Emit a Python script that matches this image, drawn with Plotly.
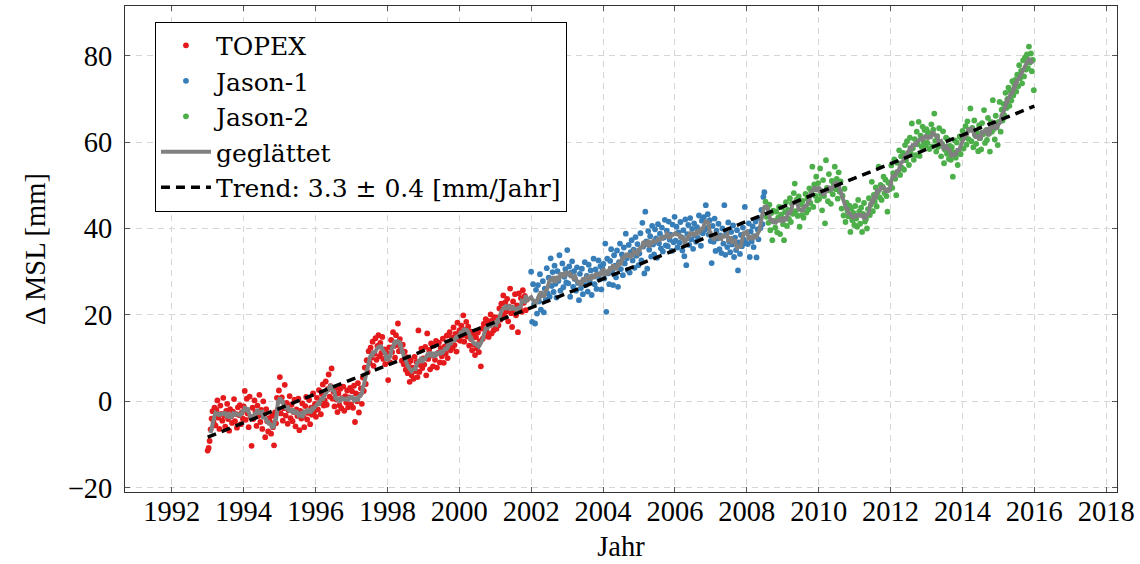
import numpy as np
import pandas as pd
import plotly.graph_objects as go

# ---------------- data ----------------
cycle_years = 9.9156 / 365.25   # repeat cycle of the altimeter missions

topex_start = 1993.0
topex_mm = [
    # 1993
    -11.4, -10.8, -9.2, -6.5, -4.0, -2.3, -4.8, -1.5, -5.6, -2.0, 0.2, -3.8, -6.4, -1.0, -2.9, -4.5, 0.8, -3.3, -5.9,
    -2.2, -0.6, -4.1, -6.8, -1.8, -3.5, -5.0, -2.4, 0.5, -4.6, -2.9, -6.1, -1.4, -3.2, -0.9, -5.3, -2.6, -4.0,
    # 1994
    -1.2, 2.4, -4.3, 0.6, -2.8, -6.0, 1.1, -3.6, -10.3, -1.5, -4.1, 0.2, -2.5, -5.7, -1.0, -3.4, 1.5, -4.8, -2.0,
    -6.4, 0.0, -3.0, -8.3, -1.8, -4.6, -7.0, -3.9, -4.8, -7.5, -3.4, -6.0, -10.2, -2.6, -5.1, 0.8, -1.9, 2.5,
    # 1995
    5.6, -2.8, 0.9, -4.5, -1.6, 3.8, -3.3, -0.4, -5.2, -2.1, 1.2, -3.9, -0.8, -4.6, -2.5, 0.4, -5.8, -1.9, -3.4,
    0.6, -6.7, -2.2, -4.0, -0.5, -3.6, -6.0, -1.1, 1.0, -4.2, -2.7, 0.3, -5.3, -1.5, -3.1, 1.8, -2.4, -0.6,
    # 1996
    -3.6, 0.8, -1.9, 2.6, -0.4, -3.0, 1.7, 3.9, -1.0, 0.2, 4.6, -0.8, 2.8, 6.2, 1.1, 3.5, 7.6, 0.6, 2.2,
    -1.2, 3.0, 0.4, -2.5, 1.8, -0.9, 2.9, -1.6, 0.7, 3.4, -2.2, 1.2, -0.3, 2.5, -1.4, 0.9, 3.1, -0.7,
    # 1997
    2.3, -1.5, 3.6, -4.8, 1.8, 0.0, 4.2, -2.6, 1.5, 3.0, -0.6, 5.5, 2.4, 7.8, 4.0, 9.5, 6.8, 11.6, 8.9,
    12.4, 10.1, 13.8, 8.2, 11.0, 14.6, 9.6, 12.8, 15.3, 10.4, 13.5, 11.2, 14.9, 9.8, 12.0, 8.6, 11.3, 10.0,
    # 1998
    4.9, 12.5, 9.0, 14.2, 11.4, 16.0, 12.8, 10.1, 15.3, 13.0, 18.0, 11.6, 14.4, 12.0, 9.4, 13.1, 8.6, 11.5, 7.3,
    10.2, 6.5, 8.8, 4.5, 9.4, 6.0, 7.8, 5.2, 10.3, 7.0, 9.1, 5.6, 16.4, 6.8, 8.4, 12.2, 7.7, 9.9,
    # 1999
    8.5, 12.6, 6.0, 15.7, 9.8, 11.9, 7.4, 13.4, 10.6, 8.1, 12.9, 9.6, 14.0, 7.8, 11.2, 13.6, 9.0, 12.3, 10.4,
    14.5, 8.9, 12.7, 11.1, 15.2, 10.0, 13.3, 16.0, 11.8, 14.8, 12.4, 17.1, 13.0, 15.6, 11.5, 18.2, 14.3, 16.4,
    # 2000
    14.0, 17.5, 15.2, 19.9, 13.8, 16.6, 18.4, 15.0, 17.3, 12.9, 16.2, 14.4, 11.8, 15.6, 13.1, 10.7, 14.8, 12.2, 15.9,
    11.4, 13.9, 8.1, 16.8, 14.5, 17.9, 15.3, 19.0, 16.1, 18.6, 14.9, 17.6, 20.1, 15.7, 18.8, 16.4, 19.5, 17.2,
    # 2001
    16.8, 19.4, 17.6, 21.5, 18.9, 22.6, 20.0, 24.5, 19.7, 22.9, 20.8, 23.7, 18.5, 21.9, 26.1, 20.4,
    17.2, 23.1, 21.3, 24.8, 19.9, 22.2, 16.0, 25.0, 21.6, 23.9, 20.7, 25.7, 22.8, 24.4, 21.1, 23.5,
]

jason1_start = 2002.0
jason1_mm = [
    # 2002
    30.0, 18.4, 27.1, 22.5, 18.0, 25.8, 20.3, 26.9, 23.1, 29.4, 21.2, 24.7, 27.8, 20.6, 26.1, 23.5, 30.8, 25.0, 28.6,
    24.2, 33.1, 26.7, 29.9, 25.3, 31.4, 27.2, 24.0, 30.1, 27.9, 33.8, 25.6, 29.2, 31.9, 26.4, 28.8, 30.6, 27.5,
    # 2003
    35.0, 27.3, 31.2, 24.2, 29.8, 32.4, 26.5, 30.1, 28.3, 25.6, 31.0, 27.4, 23.4, 29.5, 26.2, 30.7, 24.8, 28.1, 32.2,
    26.9, 29.0, 25.4, 31.6, 27.8, 30.3, 24.6, 28.9, 33.0, 27.1, 30.5, 26.0, 29.4, 32.6, 28.2, 31.3, 25.9, 30.8,
    # 2004
    31.8, 28.4, 36.5, 20.7, 33.0, 29.6, 27.1, 32.5, 35.2, 30.0, 26.9, 33.8, 31.4, 28.7, 34.9, 26.5, 32.2, 36.5, 30.6,
    34.0, 29.2, 35.6, 31.9, 38.8, 33.1, 30.4, 36.2, 29.8, 34.5, 37.3, 32.6, 35.1, 30.9, 38.0, 33.7, 36.4, 31.5,
    # 2005
    34.2, 38.9, 32.6, 41.3, 35.8, 29.6, 43.9, 37.0, 30.7, 39.4, 35.1, 38.2, 33.5, 40.6, 36.3, 34.0, 39.8, 37.7, 33.2,
    41.0, 36.6, 38.8, 35.4, 40.2, 34.7, 37.9, 42.0, 36.1, 39.5, 35.9, 41.6, 37.4, 38.6, 34.8, 40.9, 36.8, 42.7,
    # 2006
    37.2, 40.4, 35.6, 39.1, 36.7, 41.5, 38.0, 34.9, 39.6, 33.6, 42.1, 31.5, 38.7, 40.8, 36.2, 42.4, 37.5, 39.9, 35.3,
    41.2, 38.4, 36.9, 40.3, 37.8, 43.0, 39.2, 36.0, 41.8, 38.9, 42.6, 39.7, 45.4, 40.1, 43.3, 38.6, 41.9, 37.1,
    # 2007
    32.0, 40.6, 36.9, 42.3, 34.8, 39.5, 37.7, 41.1, 35.2, 38.4, 34.3, 40.0, 36.5, 45.4, 33.9, 38.8, 35.7, 41.4, 37.0,
    34.5, 39.2, 36.3, 40.7, 33.4, 37.9, 35.0, 39.6, 30.3, 36.8, 34.1, 38.5, 35.9, 40.2, 37.4, 45.0, 36.6, 39.0,
    # 2008
    36.4, 41.2, 33.4, 39.3, 37.0, 40.5, 35.7, 38.2, 41.6, 33.3, 39.8, 37.5, 42.4, 40.1, 44.3, 41.0, 47.3, 48.4,
]

jason2_start = 2008.52
jason2_mm = [
    # 2008
    46.2, 42.7, 44.8, 41.3, 45.5, 39.6, 43.6, 37.3, 44.1, 41.8, 40.2, 43.9, 39.1, 42.5, 45.0, 38.7, 43.2,
    # 2009
    44.9, 41.0, 37.3, 43.8, 46.1, 40.6, 44.3, 42.2, 47.0, 41.5, 45.8, 43.4, 48.2, 50.4, 44.0, 46.7, 42.9, 47.4, 40.4,
    45.6, 43.1, 46.4, 42.5, 45.1, 48.0, 43.7, 46.9, 44.4, 49.3, 45.9, 48.6, 54.3, 45.0, 50.2, 47.6, 52.0, 46.5,
    # 2010
    50.5, 46.8, 53.9, 48.0, 44.2, 51.2, 47.5, 41.2, 55.8, 49.4, 46.3, 52.6, 48.8, 45.7, 51.0, 47.9, 50.3, 54.3, 49.1,
    51.5, 46.9, 53.0, 48.5, 50.9, 44.6, 47.6, 43.0, 49.2, 41.5, 46.0, 44.1, 42.8, 45.3, 39.2, 44.7, 41.9, 43.6,
    # 2011
    40.8, 45.2, 42.3, 40.4, 46.6, 43.9, 41.1, 44.8, 39.2, 43.4, 45.9, 41.6, 42.2, 40.0, 44.5, 47.0, 43.1, 45.5, 50.8,
    44.0, 47.8, 46.2, 49.5, 45.1, 48.4, 54.3, 47.2, 50.1, 46.6, 49.7, 52.0, 48.2, 51.3, 47.5, 43.9, 50.6, 49.0,
    # 2012
    50.3, 54.6, 49.4, 52.8, 56.0, 51.5, 47.7, 55.2, 53.1, 58.1, 52.4, 56.7, 54.0, 57.5, 53.6, 59.3, 55.8, 60.2, 56.9,
    54.7, 61.0, 57.4, 64.3, 58.6, 55.9, 60.7, 57.0, 62.4, 59.5, 64.7, 56.8, 61.5, 58.9, 63.6, 60.1, 62.8, 59.2,
    # 2013
    63.0, 59.8, 62.2, 58.4, 61.7, 64.1, 59.0, 62.9, 66.6, 60.3, 57.8, 61.4, 58.9, 63.2, 60.0, 56.7, 59.6, 62.5, 55.1,
    58.2, 61.0, 57.3, 60.6, 56.1, 59.1, 55.9, 58.8, 52.0, 57.6, 60.4, 56.4, 59.9, 54.7, 58.0, 61.3, 57.2, 60.8,
    # 2014
    62.6, 58.5, 61.1, 63.7, 59.4, 64.8, 60.7, 62.9, 67.8, 60.2, 63.3, 58.8, 65.0, 61.5, 59.6, 62.1, 57.9, 63.9, 60.9,
    58.3, 64.4, 61.8, 67.4, 59.8, 62.7, 60.5, 65.6, 61.9, 57.8, 64.6, 62.4, 69.7, 63.0, 60.6, 66.1, 63.5, 59.3,
    # 2015
    64.7, 69.3, 62.4, 67.5, 65.0, 68.8, 66.2, 71.4, 67.9, 70.0, 72.6, 68.4, 71.9, 69.6, 74.1, 70.8, 73.3, 74.4, 71.7,
    75.6, 72.9, 77.8, 74.8, 76.5, 73.6, 78.9, 75.2, 79.6, 76.8, 80.3, 77.1, 82.1, 78.4, 80.5, 76.4, 79.0, 72.0,
]

trend_years = [1993.0, 2016.0]
trend_mm = [-8.3, 68.3]

x_ticks = [1992, 1994, 1996, 1998, 2000, 2002, 2004, 2006, 2008, 2010, 2012, 2014, 2016, 2018]
y_ticks = [-20, 0, 20, 40, 60, 80]

# ---------------- derived ----------------
def times(start, values):
    return start + cycle_years * np.arange(len(values))

topex_t = times(topex_start, topex_mm)
jason1_t = times(jason1_start, jason1_mm)
jason2_t = times(jason2_start, jason2_mm)

all_t = np.concatenate([topex_t, jason1_t, jason2_t])
all_mm = np.concatenate([topex_mm, jason1_mm, jason2_mm])
smooth_mm = pd.Series(all_mm).rolling(6, center=True, min_periods=6).mean().to_numpy()

FONT = "Liberation Serif"
FS = 28.5
LEG_FONT = "DejaVu Serif"
LEG_FS = 25

fig = go.Figure()
for name, t, v, col in [
    ("TOPEX", topex_t, topex_mm, "#e41a1c"),
    ("Jason-1", jason1_t, jason1_mm, "#377eb8"),
    ("Jason-2", jason2_t, jason2_mm, "#4daf4a"),
]:
    fig.add_trace(go.Scatter(x=t, y=v, mode="markers", name=name,
                             marker=dict(size=5.8, color=col, line=dict(width=0))))

fig.add_trace(go.Scatter(x=all_t, y=smooth_mm, mode="lines", name="geglättet",
                         line=dict(color="#808080", width=4)))
fig.add_trace(go.Scatter(x=trend_years, y=trend_mm, mode="lines",
                         name="Trend: 3.3 ± 0.4 [mm/Jahr]",
                         line=dict(color="black", width=3.5, dash="9px,6px")))

axis_common = dict(
    showline=True, linecolor="#333333", linewidth=1, mirror="allticks",
    ticks="inside", ticklen=5, tickcolor="#555555", tickwidth=1,
    showgrid=True, gridcolor="#d6d6d6", gridwidth=1, griddash="6px,5px",
    zeroline=False,
    tickfont=dict(family=FONT, size=FS, color="black"),
    title_font=dict(family=FONT, size=FS, color="black"),
)

fig.update_xaxes(range=[1990.7, 2018.3], tickvals=x_ticks, title_text="Jahr",
                 title_standoff=9, ticklabelstandoff=-6, **axis_common)
fig.update_yaxes(range=[-21.0, 91.5], tickvals=y_ticks, title_text="Δ MSL [mm]",
                 title_standoff=13, ticklabelstandoff=6, **axis_common)

fig.update_layout(
    width=1140, height=564,
    margin=dict(l=125, r=23, t=6, b=72),
    plot_bgcolor="white", paper_bgcolor="white",
    font=dict(family=FONT, size=FS, color="black"),
    legend=dict(x=0.0302, y=0.968, xanchor="left", yanchor="top",
                bgcolor="white", bordercolor="black", borderwidth=1,
                font=dict(family=LEG_FONT, size=LEG_FS, color="black"),
                tracegroupgap=0, itemwidth=50),
    showlegend=True,
)

fig.write_html("out.html")
